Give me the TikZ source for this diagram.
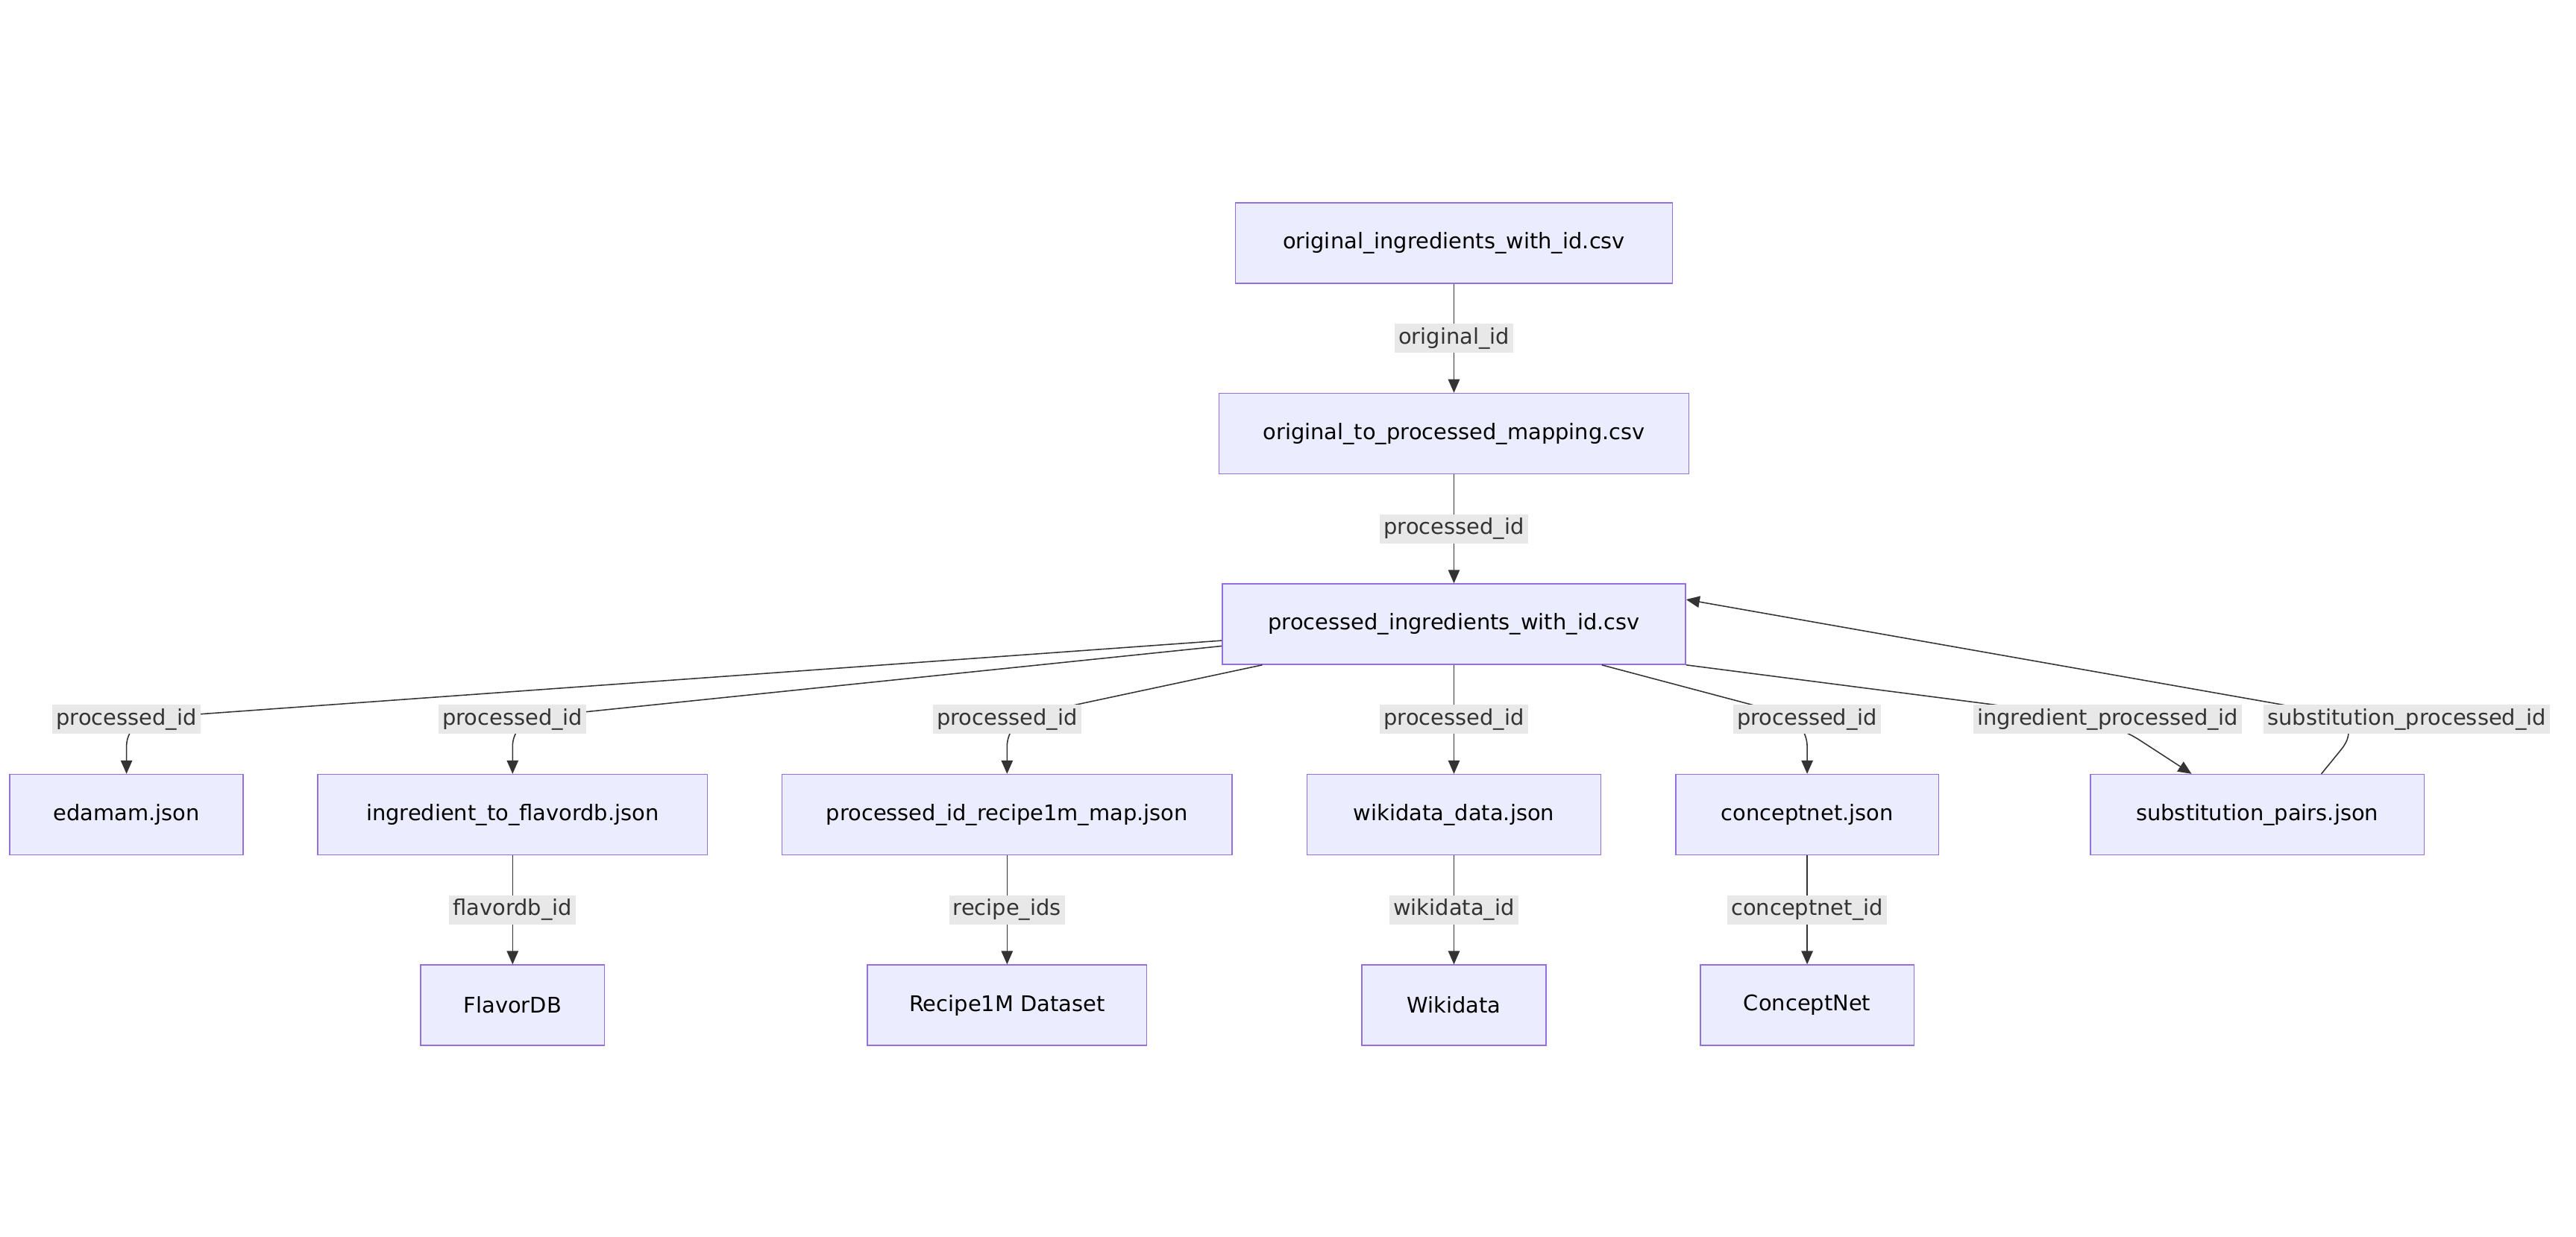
\documentclass[tikz,border=0pt]{standalone}
\usepackage{fontspec}
\setmainfont{DejaVu Sans}
\usetikzlibrary{arrows.meta}
\definecolor{boxfill}{HTML}{ECECFF}
\definecolor{boxline}{HTML}{9370DB}
\definecolor{edgeline}{HTML}{333333}
\definecolor{labelbg}{HTML}{E8E8E8}
\begin{document}
\begin{tikzpicture}[x=0.03cm, y=-0.03cm,
                    file/.style={rectangle, draw=boxline, fill=boxfill, line width=0.6pt,
                                 minimum height=1.47cm, inner sep=0pt},
                    key/.style={fill=labelbg, inner sep=2pt, text=edgeline, sharp corners},
                    flow/.style={draw=edgeline, line width=0.6pt, rounded corners=14pt,
                                 -{Triangle[length=7pt, width=6pt]}},
                    font=\fontsize{11.2pt}{13}\selectfont]
  \useasboundingbox (0, 0) rectangle (1568, 753);

  % Files.
  \node at (885, 148) [file, minimum width=7.98cm, name=OriginalIngredients] {original\_ingredients\_with\_id.csv};
  \node at (885, 264) [file, minimum width=8.58cm, name=Mapping] {original\_to\_processed\_mapping.csv};
  \node at (885, 380) [file, minimum width=8.46cm, name=ProcessedIngredients] {processed\_ingredients\_with\_id.csv};
  \node at (77, 496) [file, minimum width=4.26cm, name=Edamam] {edamam.json};
  \node at (312, 496) [file, minimum width=7.11cm, name=FlavorMap] {ingredient\_to\_flavordb.json};
  \node at (613, 496) [file, minimum width=8.22cm, name=RecipeMap] {processed\_id\_recipe1m\_map.json};
  \node at (885, 496) [file, minimum width=5.37cm, name=WikidataData] {wikidata\_data.json};
  \node at (1100, 496) [file, minimum width=4.8cm, name=ConceptnetData] {conceptnet.json};
  \node at (1374, 496) [file, minimum width=6.09cm, name=Substitutions] {substitution\_pairs.json};

  % External sources.
  \node at (312, 612) [file, minimum width=3.36cm, name=FlavorDB] {FlavorDB};
  \node at (613, 612) [file, minimum width=5.1cm, name=RecipeOneM] {Recipe1M Dataset};
  \node at (885, 612) [file, minimum width=3.36cm, name=Wikidata] {Wikidata};
  \node at (1100, 612) [file, minimum width=3.9cm, name=ConceptNet] {ConceptNet};

  % Bends of the fanned-out links.
  \coordinate (toEdamam) at (77, 438);
  \coordinate (toFlavor) at (312, 438);
  \coordinate (toRecipe) at (613, 438);
  \coordinate (toConcept) at (1100, 438);
  \coordinate (toSubst) at (1283, 438);
  \coordinate (fromSubst) at (1440, 438);

  % Id chain.
  \draw [flow] (OriginalIngredients)
               to node [key] {original\_id}
               (Mapping);
  \draw [flow] (Mapping)
               to node [key] {processed\_id}
               (ProcessedIngredients);

  % Links out of the processed ingredients.
  \draw [flow] ([yshift=-0.3cm]ProcessedIngredients.west) -- (toEdamam)
               node [key] {processed\_id} -- (Edamam.north);
  \draw [flow] ([yshift=-0.4cm]ProcessedIngredients.west) -- (toFlavor)
               node [key] {processed\_id} -- (FlavorMap.north);
  \draw [flow] ([xshift=-3.5cm]ProcessedIngredients.south) -- (toRecipe)
               node [key] {processed\_id} -- (RecipeMap.north);
  \draw [flow] (ProcessedIngredients)
               to node [key] {processed\_id}
               (WikidataData);
  \draw [flow] ([xshift=2.7cm]ProcessedIngredients.south) -- (toConcept)
               node [key] {processed\_id} -- (ConceptnetData.north);
  \draw [flow, rounded corners=20pt] (ProcessedIngredients.south east) -- (toSubst)
               node [key] {ingredient\_processed\_id} -- ([xshift=-1.2cm]Substitutions.north);
  \draw [flow, rounded corners=20pt] ([xshift=1.17cm]Substitutions.north) -- (fromSubst)
               node [key, xshift=0.75cm] {substitution\_processed\_id} -- ([yshift=0.45cm]ProcessedIngredients.east);

  % Links to the external sources.
  \draw [flow] (FlavorMap)
               to node [key] {flavordb\_id}
               (FlavorDB);
  \draw [flow] (RecipeMap)
               to node [key] {recipe\_ids}
               (RecipeOneM);
  \draw [flow] (WikidataData)
               to node [key] {wikidata\_id}
               (Wikidata);
  \draw [flow] (ConceptnetData)
               to node [key] {conceptnet\_id}
               (ConceptNet);
\end{tikzpicture}
\end{document}
